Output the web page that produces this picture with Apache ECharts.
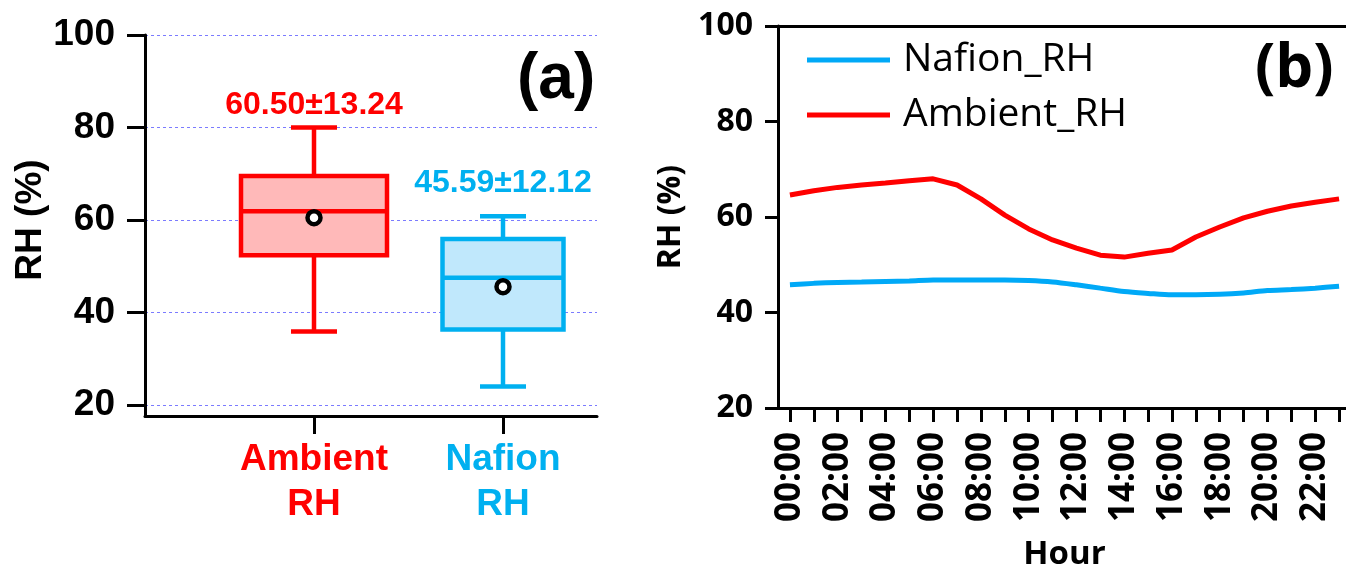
<!DOCTYPE html>
<html>
<head>
<meta charset="utf-8">
<script src="https://cdn.jsdelivr.net/npm/echarts@6/dist/echarts.min.js"></script>
<style>
html,body{margin:0;padding:0;background:#fff;}
#chart{width:1346px;height:571px;}
</style>
</head>
<body>
<div id="chart"></div>
<script>
// ---------- Data: panel (a) box plot ----------
const boxCategories = ['Ambient RH', 'Nafion RH'];
const boxMin    = [35.9, 24.0];
const boxQ1     = [52.4, 36.3];
const boxMedian = [61.9, 47.5];
const boxQ3     = [69.5, 55.9];
const boxMax    = [80.0, 60.8];
const boxMean   = [60.50, 45.59];
const boxSD     = [13.24, 12.12];

// ---------- Data: panel (b) diurnal lines ----------
const hours = ['00:00','01:00','02:00','03:00','04:00','05:00','06:00','07:00','08:00','09:00','10:00','11:00',
               '12:00','13:00','14:00','15:00','16:00','17:00','18:00','19:00','20:00','21:00','22:00','23:00'];
const nafionRH  = [45.8, 46.1, 46.3, 46.4, 46.5, 46.6, 46.8, 46.8, 46.8, 46.8, 46.7, 46.4,
                   45.8, 45.1, 44.4, 44.0, 43.7, 43.7, 43.8, 44.1, 44.6, 44.8, 45.1, 45.5];
const ambientRH = [64.6, 65.5, 66.2, 66.7, 67.1, 67.6, 68.0, 66.7, 63.8, 60.4, 57.5, 55.2,
                   53.5, 52.0, 51.6, 52.4, 53.1, 55.8, 57.9, 59.8, 61.2, 62.3, 63.1, 63.8];

// ---------- Styles ----------
const RED = '#ff0000';
const BLUE = '#00b0f0';
const BLUE_LINE = '#00a9f7';
const boxColors = [RED, BLUE];
const boxFills = ['#ffb9b9', '#c0e8fc'];
const boxWidths = [146, 121];
const capWidth = 46;
const labelLift = [22, 33];
const FA = '"Liberation Sans", Arial, sans-serif';
const FB = '"Open Sans", "Noto Sans", sans-serif';
const GRID_DASH = '#7b7bff';

// Panel (a) geometry: tick area 35..405, frame down to 416
const aTop = 35, aTickH = 370, aFrameH = 381;
const aFrameMin = 100 - 80 * aFrameH / aTickH;

const boxData = boxCategories.map((c, i) => [i, boxMin[i], boxQ1[i], boxMedian[i], boxQ3[i], boxMax[i]]);
const meanData = boxCategories.map((c, i) => [i, boxMean[i]]);

function renderBox(params, api) {
  const i = api.value(0);
  const pMin = api.coord([i, api.value(1)]);
  const pQ1 = api.coord([i, api.value(2)]);
  const pMed = api.coord([i, api.value(3)]);
  const pQ3 = api.coord([i, api.value(4)]);
  const pMax = api.coord([i, api.value(5)]);
  const x = pMed[0];
  const hw = boxWidths[i] / 2, cw = capWidth / 2;
  const col = boxColors[i];
  const lw = 4.5;
  const ls = {stroke: col, lineWidth: lw};
  return {
    type: 'group',
    children: [
      {type: 'line', shape: {x1: x, y1: pMax[1], x2: x, y2: pQ3[1]}, style: ls},
      {type: 'line', shape: {x1: x, y1: pQ1[1], x2: x, y2: pMin[1]}, style: ls},
      {type: 'line', shape: {x1: x - cw, y1: pMax[1], x2: x + cw, y2: pMax[1]}, style: ls},
      {type: 'line', shape: {x1: x - cw, y1: pMin[1], x2: x + cw, y2: pMin[1]}, style: ls},
      {type: 'rect', shape: {x: x - hw, y: pQ3[1], width: 2 * hw, height: pQ1[1] - pQ3[1]},
        style: {fill: boxFills[i], stroke: col, lineWidth: lw}},
      {type: 'line', shape: {x1: x - hw, y1: pMed[1], x2: x + hw, y2: pMed[1]}, style: ls},
      {type: 'text', x: x, y: pMax[1] - labelLift[i],
        style: {text: boxMean[i].toFixed(2) + '\u00b1' + boxSD[i].toFixed(2), fill: col,
          font: 'bold 32px ' + FA, align: 'center', verticalAlign: 'middle'}}
    ]
  };
}

const chart = echarts.init(document.getElementById('chart'));
const option = {
  animation: false,
  backgroundColor: '#fff',
  grid: [
    // 0: panel a frame
    {left: 145, top: aTop, width: 452, height: aFrameH, outerBoundsMode: 'none'},
    // 1: panel a ticks / labels / grid lines
    {left: 145, top: aTop, width: 452, height: aTickH, outerBoundsMode: 'none'},
    // 2: panel a data
    {left: 219.5, top: aTop, width: 378, height: aFrameH, outerBoundsMode: 'none'},
    // 3: panel b
    {left: 778, top: 26, width: 573, height: 382, outerBoundsMode: 'none'}
  ],
  xAxis: [
    {gridIndex: 0, type: 'value', min: 0, max: 1,
      axisLine: {show: true, lineStyle: {color: '#000', width: 3}},
      axisTick: {show: false}, axisLabel: {show: false}, splitLine: {show: false}},
    {gridIndex: 1, type: 'value', min: 0, max: 1, show: false},
    {gridIndex: 2, type: 'category', data: boxCategories, boundaryGap: true,
      axisLine: {show: false},
      axisTick: {show: true, alignWithLabel: true, length: 18, lineStyle: {color: '#000', width: 3}},
      axisLabel: {
        margin: 21, interval: 0,
        formatter: (v, i) => v.split(' ').map(s => '{c' + i + '|' + s + '}').join('\n'),
        rich: {
          c0: {color: RED, fontFamily: FA, fontWeight: 'bold', fontSize: 37, lineHeight: 45},
          c1: {color: BLUE, fontFamily: FA, fontWeight: 'bold', fontSize: 37, lineHeight: 45}
        }
      }},
    {gridIndex: 3, type: 'category', data: hours, boundaryGap: true,
      name: 'Hour', nameLocation: 'middle', nameGap: 130,
      nameTextStyle: {fontFamily: FB, fontWeight: 'bold', fontSize: 33, color: '#000'},
      axisLine: {show: true, lineStyle: {color: '#000', width: 3}},
      axisTick: {show: true, alignWithLabel: true, interval: 0, length: 14, lineStyle: {color: '#000', width: 3}},
      axisLabel: {interval: 1, rotate: 90, margin: 24, fontFamily: FB, fontWeight: 'bold', fontSize: 35, color: '#000'},
      splitLine: {show: false}},
    {gridIndex: 3, type: 'category', data: hours, position: 'top', boundaryGap: true,
      axisLine: {show: true, lineStyle: {color: '#000', width: 3}},
      axisTick: {show: false}, axisLabel: {show: false}, splitLine: {show: false}}
  ],
  yAxis: [
    {gridIndex: 0, type: 'value', min: aFrameMin, max: 100,
      axisLine: {show: true, lineStyle: {color: '#000', width: 3}},
      axisTick: {show: false}, axisLabel: {show: false}, splitLine: {show: false}},
    {gridIndex: 1, type: 'value', min: 20, max: 100, interval: 20,
      name: 'RH (%)', nameLocation: 'middle', nameGap: 93, nameRotate: 90,
      nameTextStyle: {fontFamily: FA, fontWeight: 'bold', fontSize: 37, color: '#000'},
      axisLine: {show: false},
      axisTick: {show: true, length: 18, lineStyle: {color: '#000', width: 3}},
      axisLabel: {margin: 30, fontFamily: FA, fontWeight: 'bold', fontSize: 37, color: '#000'},
      splitLine: {show: true, lineStyle: {color: GRID_DASH, width: 1, type: [3, 3]}}},
    {gridIndex: 2, type: 'value', min: aFrameMin, max: 100, show: false},
    {gridIndex: 3, type: 'value', min: 20, max: 100, interval: 20,
      name: 'RH (%)', nameLocation: 'middle', nameGap: 91, nameRotate: 90,
      nameTextStyle: {fontFamily: FB, fontWeight: 'bold', fontSize: 32, color: '#000'},
      axisLine: {show: true, lineStyle: {color: '#000', width: 3}},
      axisTick: {show: true, length: 13, lineStyle: {color: '#000', width: 3}},
      axisLabel: {margin: 25, fontFamily: FB, fontWeight: 'bold', fontSize: 32, color: '#000'},
      splitLine: {show: false}}
  ],
  legend: {
    data: ['Nafion_RH', 'Ambient_RH'],
    orient: 'vertical', left: 802, top: 32,
    icon: 'rect', itemWidth: 83, itemHeight: 5, itemGap: 9,
    textStyle: {fontFamily: FB, fontSize: 39, color: '#000', lineHeight: 46, padding: [0, 0, 0, 8]}
  },
  series: [
    {type: 'custom', xAxisIndex: 2, yAxisIndex: 2, data: boxData, renderItem: renderBox, z: 3},
    {type: 'scatter', xAxisIndex: 2, yAxisIndex: 2, data: meanData, symbol: 'circle', symbolSize: 13,
      itemStyle: {color: '#fff', borderColor: '#000', borderWidth: 4.5, opacity: 1}, z: 5},
    {name: 'Nafion_RH', type: 'line', xAxisIndex: 3, yAxisIndex: 3, data: nafionRH,
      showSymbol: false, smooth: 0.3, lineStyle: {color: BLUE_LINE, width: 5}, itemStyle: {color: BLUE_LINE}},
    {name: 'Ambient_RH', type: 'line', xAxisIndex: 3, yAxisIndex: 3, data: ambientRH,
      showSymbol: false, smooth: false, lineStyle: {color: RED, width: 5}, itemStyle: {color: RED}}
  ],
  graphic: [
    {type: 'text', left: 517, top: 48, style: {text: '(a)', font: 'bold 64px ' + FA, fill: '#000'}},
    {type: 'text', left: 1255, top: 40, style: {text: '(b)', font: 'bold 60px ' + FB, fill: '#000'}}
  ]
};
chart.setOption(option);
</script>
</body>
</html>
